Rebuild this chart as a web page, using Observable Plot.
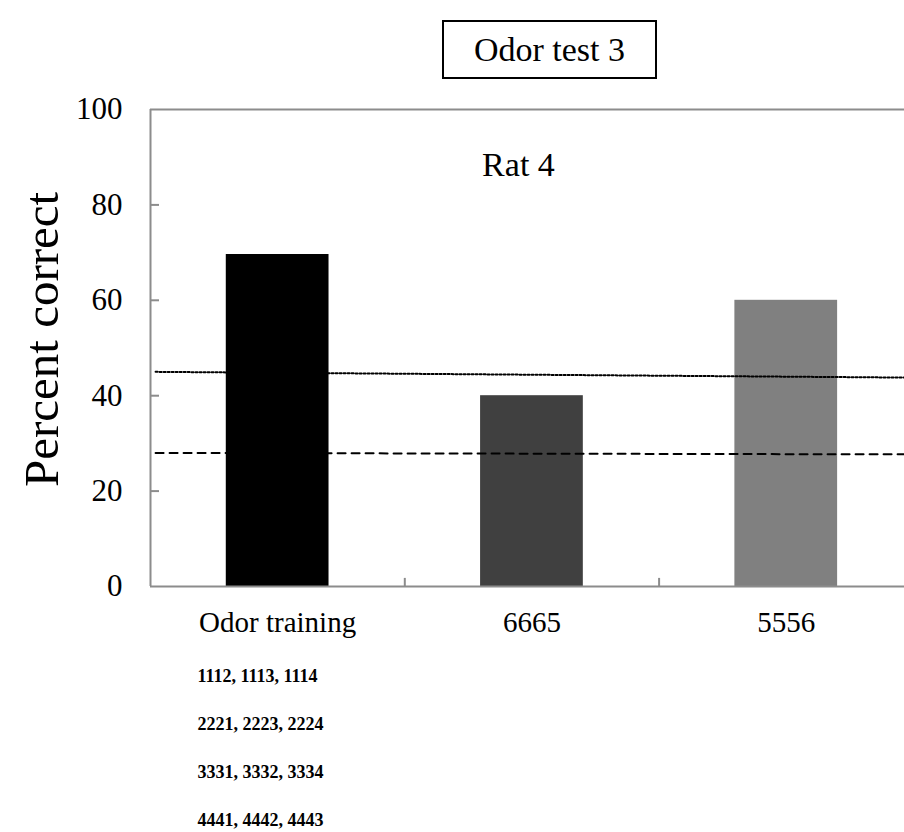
<!DOCTYPE html>
<html>
<head>
<meta charset="utf-8">
<script src="https://cdn.jsdelivr.net/npm/d3@7"></script>
<script src="https://cdn.jsdelivr.net/npm/@observablehq/plot@0.6"></script>
<style>
  html, body { margin: 0; padding: 0; background: #fff; }
  #wrap { position: relative; width: 904px; height: 832px; overflow: hidden; font-family: "Liberation Serif", "Times New Roman", serif; }
  #titlebox { position: absolute; left: 442px; top: 20px; width: 211px; height: 55px; border: 2px solid #000; box-sizing: content-box; font-size: 34px; line-height: 55px; text-align: center; }
</style>
</head>
<body>
<div id="wrap">
  <div id="chart"></div>
  <div id="titlebox">Odor test 3</div>
</div>
<script>
// ---- data ----
const categories = ["Odor training", "6665", "5556"];
const percentCorrect = [69.6, 40, 60];
const barColors = ["#000000", "#404040", "#808080"];
const dottedLine = [45.0, 43.8];   // left end, right end
const dashedLine = [28.0, 27.7];   // left end, right end
const yTicks = [0, 20, 40, 60, 80, 100];
const panelLabel = "Rat 4";
const yLabel = "Percent correct";
const odorLists = ["1112, 1113, 1114", "2221, 2223, 2224", "3331, 3332, 3334", "4441, 4442, 4443"];

const bars = categories.map((c, i) => ({c, i, v: percentCorrect[i], color: barColors[i]}));
const xMax = 754 / 254.3;
const lineX = [0.02, xMax];
const dotted = lineX.map((x, k) => ({x, y: dottedLine[k]}));
const dashed = lineX.map((x, k) => ({x, y: dashedLine[k]}));
const axisGray = "#8c8c8c";

const listMarks = odorLists.map((t, i) =>
  Plot.text([t], {x: 0, y: 0, text: d => d, textAnchor: "start", dx: 47, dy: 90 + 48 * i, fontSize: 18, fontWeight: "bold", fill: "#000"})
);

const chart = Plot.plot({
  width: 904,
  height: 832,
  marginTop: 109,
  marginBottom: 246,
  marginLeft: 150,
  marginRight: 0,
  style: {fontFamily: "'Liberation Serif', 'Times New Roman', serif", background: "transparent"},
  x: {domain: [0, xMax], axis: null},
  y: {domain: [0, 100], axis: null},
  marks: [
    Plot.rectY(bars, {x1: d => d.i + 0.298, x2: d => d.i + 0.702, y1: 0, y2: "v", fill: d => d.color}),
    // axis frame
    Plot.ruleX([0], {y1: 0, y2: 100, stroke: axisGray, strokeWidth: 2}),
    Plot.ruleY([0, 100], {x1: 0, x2: xMax, stroke: axisGray, strokeWidth: 2}),
    // inward y ticks
    Plot.ruleY(yTicks.filter(t => t > 0 && t < 100), {x1: 0, x2: 9 / 254.3, stroke: axisGray, strokeWidth: 2}),
    // category boundary ticks
    Plot.ruleX([1, 2], {y1: 0, y2: 1.7, stroke: axisGray, strokeWidth: 2}),
    // reference lines
    Plot.line(dotted, {x: "x", y: "y", stroke: "#000", strokeWidth: 2, strokeDasharray: "2 2"}),
    Plot.line(dashed, {x: "x", y: "y", stroke: "#000", strokeWidth: 2, strokeDasharray: "8 6"}),
    // y tick labels
    Plot.text(yTicks, {x: 0, y: d => d, text: d => String(d), textAnchor: "end", dx: -28, fontSize: 31, fill: "#000"}),
    // category labels
    Plot.text(bars, {x: d => d.i + 0.5, y: 0, text: "c", dy: 36, fontSize: 29, fill: "#000"}),
    // panel label
    Plot.text([panelLabel], {x: 1.447, y: 88.3, text: d => d, fontSize: 34, fill: "#000"}),
    // y axis title
    Plot.text([yLabel], {x: 0, y: 51.8, text: d => d, rotate: -90, dx: -108, fontSize: 49, fill: "#000"}),
    // odor lists below
    ...listMarks
  ]
});
document.getElementById("chart").appendChild(chart);
</script>
</body>
</html>
